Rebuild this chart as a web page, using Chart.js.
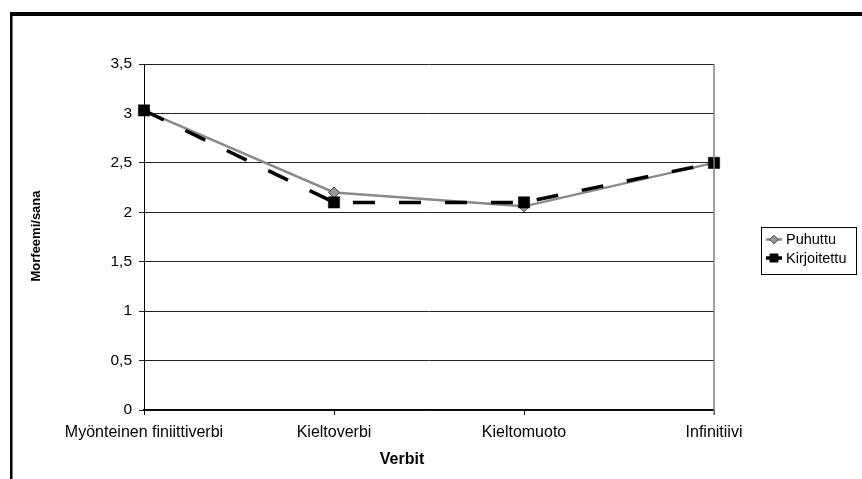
<!DOCTYPE html>
<html>
<head>
<meta charset="utf-8">
<script src="https://cdn.jsdelivr.net/npm/chart.js@4/dist/chart.umd.min.js"></script>
<style>
  html, body { margin: 0; padding: 0; background: #ffffff; }
  canvas { display: block; }
</style>
</head>
<body>
<canvas id="c" width="862" height="479"></canvas>
<script>
// Morphemes per word for verb forms, spoken vs written
const categories = ['Myönteinen finiittiverbi', 'Kieltoverbi', 'Kieltomuoto', 'Infinitiivi'];
const puhuttu = [3.03, 2.20, 2.06, 2.50];
const kirjoitettu = [3.03, 2.10, 2.10, 2.50];
const seriesNames = ['Puhuttu', 'Kirjoitettu'];
const yMin = 0, yMax = 3.5, yStep = 0.5;
const xTitle = 'Verbit';
const yTitle = 'Morfeemi/sana';

const FONT = "'Liberation Sans', Arial, sans-serif";
Chart.defaults.font.family = FONT;
Chart.defaults.color = '#000';

// Outer frame, plot border, axis titles and a boxed legend
const decorations = {
  id: 'decorations',
  beforeDraw(chart) {
    const ctx = chart.ctx;
    ctx.save();
    ctx.fillStyle = '#fff';
    ctx.fillRect(0, 0, chart.width, chart.height);
    ctx.fillStyle = '#000';
    ctx.fillRect(10, 12, chart.width - 10, 4);
    ctx.fillRect(10, 12, 2.5, chart.height - 12);
    ctx.restore();
  },
  afterDatasetsDraw(chart) {
    const ctx = chart.ctx;
    const a = chart.chartArea;
    ctx.save();
    // right edge of the plot area
    ctx.strokeStyle = '#808080';
    ctx.lineWidth = 1.5;
    ctx.beginPath();
    ctx.moveTo(a.right, a.top);
    ctx.lineTo(a.right, a.bottom + 5);
    ctx.stroke();

    // axis titles
    ctx.fillStyle = '#000';
    ctx.textAlign = 'center';
    ctx.textBaseline = 'middle';
    ctx.font = 'bold 16px ' + FONT;
    ctx.fillText(xTitle, 402, 460);
    ctx.save();
    ctx.translate(36, 236);
    ctx.rotate(-Math.PI / 2);
    ctx.font = 'bold 13px ' + FONT;
    ctx.fillText(yTitle, 0, 0);
    ctx.restore();

    // legend
    ctx.strokeStyle = '#000';
    ctx.lineWidth = 1;
    ctx.strokeRect(761.5, 227.5, 95, 47);
    const rows = [239.5, 258];
    chart.data.datasets.forEach((ds, i) => {
      const y = rows[i];
      ctx.strokeStyle = ds.borderColor;
      ctx.lineWidth = ds.borderWidth;
      ctx.setLineDash([]);
      ctx.beginPath();
      ctx.moveTo(766, y);
      ctx.lineTo(782, y);
      ctx.stroke();
      ctx.fillStyle = ds.pointBackgroundColor;
      ctx.strokeStyle = ds.pointBorderColor;
      ctx.lineWidth = 1;
      ctx.beginPath();
      if (ds.pointStyle === 'rectRot') {
        const r = 4.3;
        ctx.moveTo(774, y - r);
        ctx.lineTo(774 + r, y);
        ctx.lineTo(774, y + r);
        ctx.lineTo(774 - r, y);
        ctx.closePath();
      } else {
        ctx.rect(770, y - 4, 8, 8);
      }
      ctx.fill();
      ctx.stroke();
      ctx.fillStyle = '#000';
      ctx.textAlign = 'left';
      ctx.textBaseline = 'middle';
      ctx.font = '14.5px ' + FONT;
      ctx.fillText(ds.label, 786, y + 0.5);
    });
    ctx.restore();
  }
};

new Chart(document.getElementById('c'), {
  type: 'line',
  data: {
    labels: categories,
    datasets: [
      {
        label: seriesNames[0],
        data: puhuttu,
        borderColor: '#8a8a8a',
        borderWidth: 2.5,
        pointStyle: 'rectRot',
        pointRadius: 5.5,
        pointBackgroundColor: '#999999',
        pointBorderColor: '#444444',
        pointBorderWidth: 1,
        tension: 0,
        order: 1
      },
      {
        label: seriesNames[1],
        data: kirjoitettu,
        borderColor: '#000000',
        borderWidth: 3.5,
        borderDash: [22, 24],
        borderCapStyle: 'butt',
        pointStyle: 'rect',
        pointRadius: 8,
        pointBackgroundColor: '#000000',
        pointBorderColor: '#000000',
        pointBorderWidth: 0.5,
        tension: 0,
        order: 0
      }
    ]
  },
  options: {
    responsive: false,
    animation: false,
    devicePixelRatio: 1,
    layout: { padding: { left: 0, top: 64, right: 148, bottom: 0 } },
    plugins: {
      legend: { display: false },
      title: { display: false },
      tooltip: { enabled: false }
    },
    scales: {
      x: {
        offset: false,
        grid: { drawOnChartArea: false, drawTicks: true, tickLength: 5, color: '#000', lineWidth: 1 },
        border: { color: '#000', width: 1.5 },
        ticks: { font: { size: 16 }, color: '#000', padding: 8, maxRotation: 0, autoSkip: false },
        afterFit(scale) { scale.height = 69; }
      },
      y: {
        min: yMin,
        max: yMax,
        grid: { color: '#222', lineWidth: 1, tickLength: 5, drawTicks: true },
        border: { color: '#000', width: 1 },
        ticks: {
          stepSize: yStep,
          font: { size: 15.5 },
          color: '#000',
          padding: 7,
          callback: v => String(v).replace('.', ',')
        },
        afterFit(scale) { scale.width = 144; }
      }
    }
  },
  plugins: [decorations]
});
</script>
</body>
</html>
